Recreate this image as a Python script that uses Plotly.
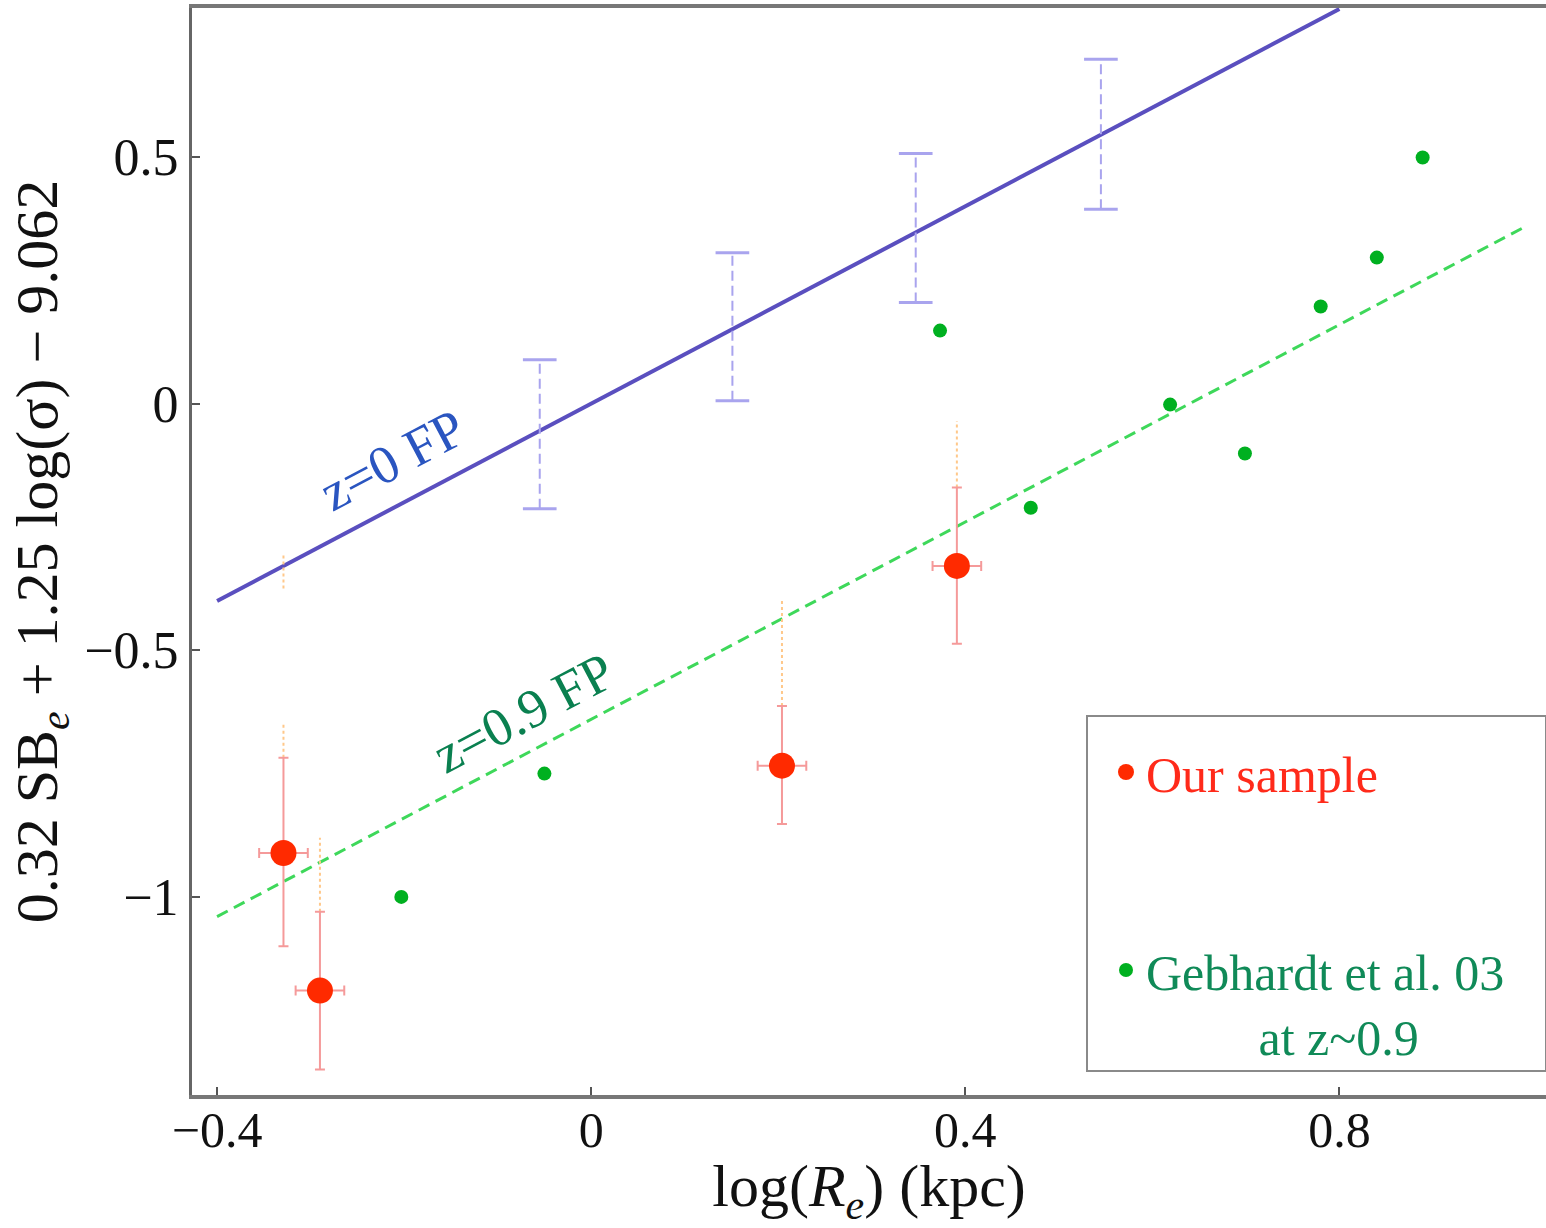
import plotly.graph_objects as go

# ---- data ----
# Our sample (red)
ours_x = [-0.329, -0.290, 0.391, 0.204]
ours_y = [-0.911, -1.190, -0.329, -0.734]
ours_err_plus = [0.193, 0.160, 0.159, 0.121]
ours_err_minus = [0.189, 0.160, 0.158, 0.118]
ours_xerr = [0.026, 0.026, 0.026, 0.026]
# dotted (orange) extensions above the error bars
ext_x = [-0.329, -0.290, 0.391, 0.204, -0.329]
ext_lo = [-0.718, -1.030, -0.170, -0.613, -0.375]
ext_hi = [-0.651, -0.880, -0.035, -0.400, -0.302]

# Gebhardt et al. 03 (green)
geb_x = [-0.203, -0.050, 0.373, 0.470, 0.619, 0.699, 0.780, 0.840, 0.889]
geb_y = [-1.000, -0.750, 0.148, -0.211, -0.002, -0.101, 0.197, 0.296, 0.499]

# fundamental plane lines
fp0_x = [-0.40, 0.80]
fp0_y = [-0.40, 0.80]
fp09_x = [-0.40, 1.00]
fp09_y = [-1.04, 0.36]

# z=0 FP scatter bars
bar_x = [-0.055, 0.151, 0.347, 0.545]
bar_lo = [-0.213, 0.006, 0.205, 0.394]
bar_hi = [0.089, 0.306, 0.507, 0.698]
cap_half = 0.018

y_tickvals = [-1, -0.5, 0, 0.5]
y_ticktext = ["\u22121", "\u22120.5", "0", "0.5"]
x_tickvals = [-0.4, 0, 0.4, 0.8]
x_ticktext = ["\u22120.4", "0", "0.4", "0.8"]

SERIF = "Liberation Serif, DejaVu Serif, serif"

fig = go.Figure()

# z=0 FP line
fig.add_trace(go.Scatter(x=fp0_x, y=fp0_y, mode="lines",
                         line=dict(color="#5a4fbf", width=4), showlegend=False, hoverinfo="skip"))
# z=0.9 FP line
fig.add_trace(go.Scatter(x=fp09_x, y=fp09_y, mode="lines",
                         line=dict(color="#3ed85a", width=3, dash="12px,7px"),
                         showlegend=False, hoverinfo="skip"))

# dashed scatter bars on z=0 FP
bx, by = [], []
for xv, lo, hi in zip(bar_x, bar_lo, bar_hi):
    bx += [xv, xv, None]
    by += [lo, hi, None]
cx, cy = [], []
for xv, lo, hi in zip(bar_x, bar_lo, bar_hi):
    cx += [xv - cap_half, xv + cap_half, None, xv - cap_half, xv + cap_half, None]
    cy += [lo, lo, None, hi, hi, None]
fig.add_trace(go.Scatter(x=bx, y=by, mode="lines",
                         line=dict(color="#a9a4ee", width=2, dash="10px,5px"),
                         showlegend=False, hoverinfo="skip"))
fig.add_trace(go.Scatter(x=cx, y=cy, mode="lines",
                         line=dict(color="#a9a4ee", width=3),
                         showlegend=False, hoverinfo="skip"))

# orange dotted extensions
ex, ey = [], []
for xv, lo, hi in zip(ext_x, ext_lo, ext_hi):
    ex += [xv, xv, None]
    ey += [lo, hi, None]
fig.add_trace(go.Scatter(x=ex, y=ey, mode="lines",
                         line=dict(color="#ffc88a", width=2, dash="dot"),
                         showlegend=False, hoverinfo="skip"))

# Our sample
fig.add_trace(go.Scatter(
    x=ours_x, y=ours_y, mode="markers",
    marker=dict(color="#ff2a00", size=26),
    error_y=dict(type="data", symmetric=False, array=ours_err_plus, arrayminus=ours_err_minus,
                 color="#f59a9a", thickness=2, width=5),
    error_x=dict(type="data", array=ours_xerr, color="#f59a9a", thickness=2, width=5),
    name="<span style='color:#ff2a1a'>Our sample</span>", legendgroup="a"))

# Gebhardt
fig.add_trace(go.Scatter(
    x=geb_x, y=geb_y, mode="markers",
    marker=dict(color="#00b020", size=14),
    name="<span style='color:#108a58'>Gebhardt et al. 03<br>" + "\u00a0" * 9 + "at z~0.9</span>",
    legendgroup="b"))

fig.add_annotation(x=-0.212, y=-0.115, xref="x", yref="y", text="z=0 FP", showarrow=False,
                   textangle=-27.8, font=dict(family=SERIF, size=54, color="#2a55c0"))
fig.add_annotation(x=-0.072, y=-0.628, xref="x", yref="y", text="z=0.9 FP", showarrow=False,
                   textangle=-27.8, font=dict(family=SERIF, size=54, color="#0a8050"))

# legend box
fig.add_shape(type="rect", xref="paper", yref="paper",
              x0=(1087 - 192) / 1354, x1=1.0, y0=(1095 - 1071) / 1087, y1=(1095 - 716) / 1087,
              line=dict(color="#8a8a8a", width=2), fillcolor="rgba(255,255,255,0)", layer="below")

fig.update_layout(
    width=1546, height=1228,
    margin=dict(l=192, r=0, t=8, b=133),
    paper_bgcolor="white", plot_bgcolor="white",
    font=dict(family=SERIF, size=52, color="#111"),
    showlegend=True,
    legend=dict(x=(1106 - 192) / 1354, y=(1095 - 733) / 1087, xanchor="left", yanchor="top",
                bgcolor="rgba(0,0,0,0)", borderwidth=0, font=dict(family=SERIF, size=50),
                tracegroupgap=130, valign="top", itemsizing="trace"),
    xaxis=dict(range=[-0.4268, 1.0209], tickvals=x_tickvals, ticktext=x_ticktext,
               showgrid=False, zeroline=False, showline=True, linecolor="#777", linewidth=4,
               mirror=True, ticks="inside", ticklen=8, tickcolor="#555", tickwidth=2,
               tickfont=dict(size=50), automargin=False, ticklabelstandoff=-12,
               title=dict(text="log(<i>R<sub>e</sub></i>) (kpc)", font=dict(size=60), standoff=22)),
    yaxis=dict(range=[-1.4016, 0.802], tickvals=y_tickvals, ticktext=y_ticktext,
               showgrid=False, zeroline=False, showline=True, linecolor="#666", linewidth=3,
               ticks="inside", ticklen=8, tickcolor="#555", tickwidth=2,
               tickfont=dict(size=52), automargin=False,
               title=dict(text="0.32 SB<sub><i>e</i></sub> + 1.25 log(σ) − 9.062",
                          font=dict(size=60), standoff=8)),
)

fig.write_html("out.html")
